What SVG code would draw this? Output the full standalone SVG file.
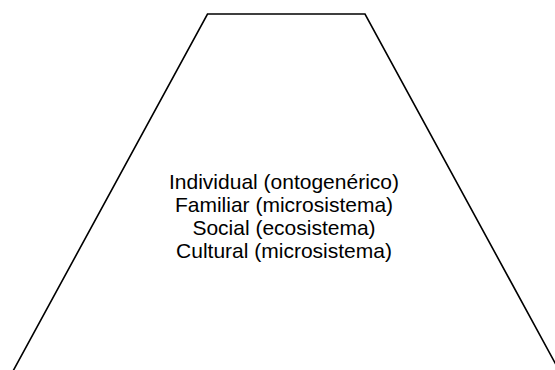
<svg xmlns="http://www.w3.org/2000/svg" width="555" height="370" viewBox="0 0 555 370">
<style>
.edge{fill:none;stroke:#000;stroke-width:1.6;stroke-linejoin:miter}
.lbl{font-family:"Liberation Sans",Arial,sans-serif;font-size:21px;fill:#000;text-anchor:middle}
</style>
<rect width="555" height="370" fill="#fff"/>
<g id="connectors">
<polyline class="edge" points="12.5,372 207.5,14 365,14 560,372"/>
</g>
<g id="node-levels">
<text class="lbl" x="284" y="188.5">Individual (ontogenérico)</text>
<text class="lbl" x="284" y="211.5">Familiar (microsistema)</text>
<text class="lbl" x="284" y="234.5">Social (ecosistema)</text>
<text class="lbl" x="284" y="257.5">Cultural (microsistema)</text>
</g>
</svg>
